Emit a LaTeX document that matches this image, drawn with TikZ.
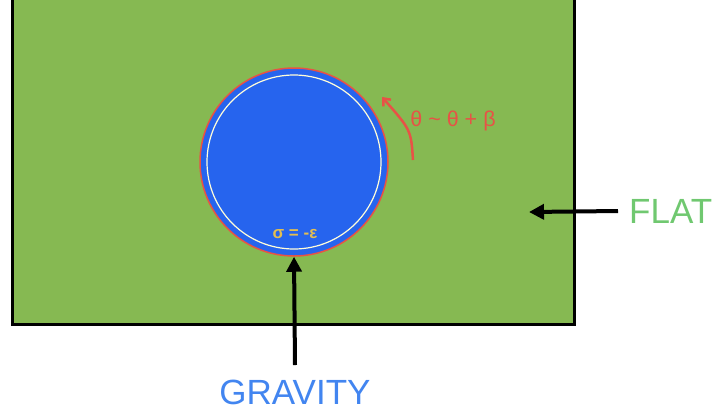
\documentclass[tikz,border=0pt]{standalone}
\usepackage{fontspec}
\setmainfont{Liberation Sans}
\usetikzlibrary{arrows.meta}
\definecolor{flatgreen}{RGB}{134,185,82}
\definecolor{gravblue}{RGB}{38,100,238}
\definecolor{labblue}{RGB}{66,133,240}
\definecolor{labgreen}{RGB}{112,200,112}
\definecolor{thetared}{RGB}{232,82,70}
\definecolor{sigyellow}{RGB}{228,190,80}
\begin{document}
\begin{tikzpicture}[x=1pt,y=-1pt,
  bigarrow/.style={line width=4pt,-{Triangle[length=15pt,width=15pt]}},
  biglabel/.style={font=\fontsize{35}{40}\selectfont,inner sep=0pt}]
\useasboundingbox (0,0) rectangle (715,416);
\begin{scope}
\clip (0,0) rectangle (715,416);
\draw[line width=3pt,fill=flatgreen] (12,-10) rectangle (574,324);
\end{scope}
\node[circle,minimum size=188pt,inner sep=0pt,fill=gravblue,draw=thetared,line width=1.5pt] (disk) at (294,162) {};
\draw[draw=white!85!yellow,line width=1.2pt] (disk.center) circle[radius=87pt];
\node[font=\bfseries\fontsize{17}{20}\selectfont,text=sigyellow,inner sep=0pt] (sigma) at (295,234) {σ = -ε};
\coordinate (ts) at (413,160);
\coordinate (te) at (382,97);
\draw[thetared,line width=2.5pt,-{Straight Barb[length=6pt,width=10pt]}] (ts) .. controls (411,130) .. (te);
\node[font=\fontsize{21.5}{25}\selectfont,text=thetared,inner sep=0pt] (theta) at (453,121) {θ {\char"7E} θ + β};
\node[biglabel,text=labblue] (grav) at (295,392) {GRAVITY};
\coordinate (gs) at (295,365);
\draw[bigarrow] (gs) -- (disk.south);
\node[biglabel,text=labgreen,anchor=west] (flat) at (629,211) {FLAT};
\coordinate (fe) at (529,212);
\draw[bigarrow] (flat.west) ++(-11pt,0) -- (fe);
\end{tikzpicture}
\end{document}
